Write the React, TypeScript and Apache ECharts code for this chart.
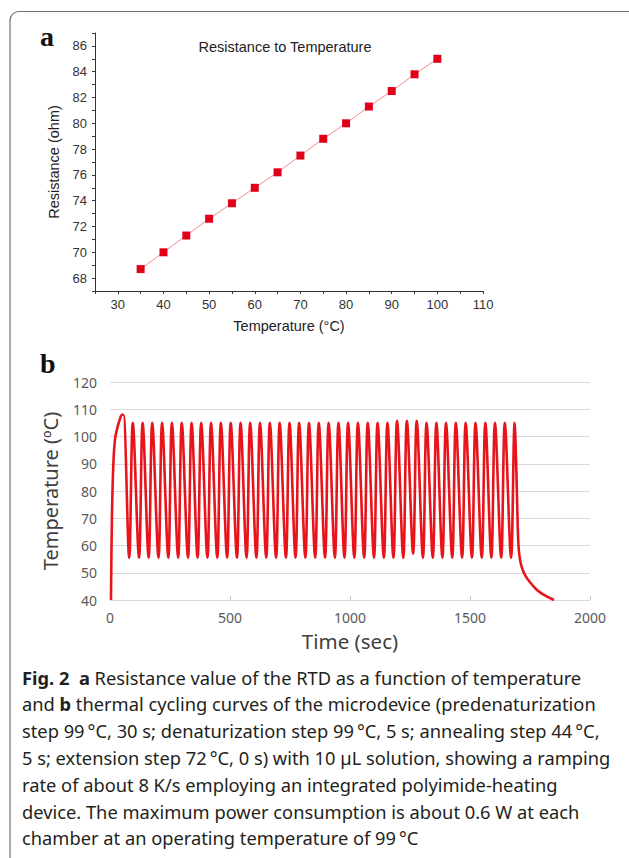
import React, { useEffect, useRef } from "react";
import * as echarts from "echarts";

// ---------- Panel a: RTD resistance vs temperature ----------
const rtdTemps = [35, 40, 45, 50, 55, 60, 65, 70, 75, 80, 85, 90, 95, 100];
const rtdResist = [68.7, 70.0, 71.3, 72.6, 73.8, 75.0, 76.2, 77.5, 78.8, 80.0, 81.3, 82.5, 83.8, 85.0];
const rtdXTicks = [30, 40, 50, 60, 70, 80, 90, 100, 110];
const rtdYTicks = [68, 70, 72, 74, 76, 78, 80, 82, 84, 86];

// ---------- Panel b: thermal cycling ----------
const rampTimes = [4, 8, 14, 21, 30, 40, 50, 56];
const rampTemps = [40, 70, 90, 99, 103, 106, 108, 108];
const troughTimes = [80, 121, 161, 202, 243, 284, 325, 365, 406, 447, 488, 529, 569, 610, 651, 692, 733, 773, 814, 855, 896, 937, 977, 1018, 1059, 1100, 1141, 1181, 1222, 1263, 1304, 1345, 1385, 1426, 1467, 1508, 1549, 1589, 1630, 1671];
const troughTemps = [55.5, 55.5, 55.5, 55.5, 55.5, 55.5, 55.5, 55.5, 55.5, 55.5, 55.5, 55.5, 55.5, 55.5, 55.5, 55.5, 55.5, 55.5, 55.5, 55.5, 55.5, 55.5, 55.5, 55.5, 55.5, 55.5, 55.5, 55.5, 55.5, 57.0, 55.5, 55.5, 55.5, 55.5, 55.5, 55.5, 55.5, 55.5, 55.5, 55.5];
const peakTimes = [95, 136, 176, 217, 258, 299, 340, 380, 421, 462, 503, 544, 584, 625, 666, 707, 748, 788, 829, 870, 911, 952, 992, 1033, 1074, 1115, 1156, 1196, 1237, 1278, 1319, 1360, 1400, 1441, 1482, 1523, 1564, 1604, 1645, 1686];
const peakTemps = [105, 105, 105, 105, 105, 105, 105, 105, 105, 105, 105, 105, 105, 105, 105, 105, 105, 105, 105, 105, 105, 105, 105, 105, 105, 105, 105, 105.8, 105.8, 105.8, 105, 105, 105, 105, 105, 105, 105, 105, 105, 105];
const coolTimes = [1693, 1698, 1702, 1708, 1716, 1730, 1750, 1779, 1810, 1850];
const coolTemps = [88, 70, 60, 55, 52, 49, 46.5, 43.7, 41.8, 40];
const cycXTicks = [0, 500, 1000, 1500, 2000];
const cycYTicks = [40, 50, 60, 70, 80, 90, 100, 110, 120];

const captionLines = [
  "{b|Fig. 2}  {b|a} Resistance value of the RTD as a function of temperature",
  "and {b|b} thermal cycling curves of the microdevice (predenaturization",
  "step 99\u2009°C, 30 s; denaturization step 99\u2009°C, 5 s; annealing step 44\u2009°C,",
  "5 s; extension step 72\u2009°C, 0 s) with 10 µL solution, showing a ramping",
  "rate of about 8 K/s employing an integrated polyimide-heating",
  "device. The maximum power consumption is about 0.6 W at each",
  "chamber at an operating temperature of 99\u2009°C",
];

const SANS_A = "Liberation Sans, Arial, sans-serif";
const SANS_B = "Noto Sans, Open Sans, sans-serif";
const CAP = "Noto Sans, Open Sans, sans-serif";
const SERIF = "Liberation Serif, Times New Roman, serif";

export default function App() {
  const ref = useRef<HTMLDivElement>(null);
  useEffect(() => {
    if (!ref.current) return;
    const chart = echarts.init(ref.current, null, { renderer: "svg" });

    const rtdData = rtdTemps.map((t, i) => [t, rtdResist[i]]);
    const cycData: number[][] = [];
    rampTimes.forEach((t, i) => cycData.push([t, rampTemps[i]]));
    troughTimes.forEach((t, i) => {
      cycData.push([t, troughTemps[i]]);
      cycData.push([peakTimes[i], peakTemps[i]]);
    });
    coolTimes.forEach((t, i) => cycData.push([t, coolTemps[i]]));

    const capFontSize = 18.3;
    const captionGraphics = captionLines.map((line, i) => ({
      type: "text",
      x: 22,
      y: 677 + i * 26.8,
      style: {
        text: line,
        fontFamily: CAP,
        fontSize: capFontSize,
        fill: "#231f20",
        verticalAlign: "middle",
        align: "left",
        rich: {
          b: { fontFamily: CAP, fontSize: capFontSize, fontWeight: "bold", fill: "#231f20" },
        },
      },
    }));

    chart.setOption({
      animation: false,
      backgroundColor: "#ffffff",
      grid: [
        { left: 95, top: 33, width: 388, height: 258 },
        { left: 110, top: 382, width: 480, height: 218 },
      ],
      xAxis: [
        {
          type: "value",
          gridIndex: 0,
          min: 25,
          max: 110,
          interval: 5,
          axisLine: { show: true, lineStyle: { color: "#333", width: 1 } },
          axisTick: { show: true, length: 3, lineStyle: { color: "#333" } },
          axisLabel: {
            formatter: (v: number) => (rtdXTicks.includes(v) ? String(v) : ""),
            color: "#333",
            fontFamily: SANS_A,
            fontSize: 13,
            margin: 7,
          },
          splitLine: { show: false },
          name: "Temperature (°C)",
          nameLocation: "middle",
          nameGap: 27,
          nameTextStyle: { fontFamily: SANS_A, fontSize: 14.5, color: "#222" },
        },
        {
          type: "value",
          gridIndex: 1,
          min: 0,
          max: 2000,
          interval: 500,
          axisLine: { show: true, lineStyle: { color: "#d9d9d9", width: 1 } },
          axisTick: { show: true, inside: true, length: 4, lineStyle: { color: "#c8c8c8" } },
          axisLabel: {
            formatter: (v: number) => (cycXTicks.includes(v) ? String(v) : ""),
            color: "#595959",
            fontFamily: SANS_B,
            fontSize: 14,
            margin: 10,
          },
          splitLine: { show: false },
          name: "Time (sec)",
          nameLocation: "middle",
          nameGap: 30,
          nameTextStyle: { fontFamily: SANS_B, fontSize: 20.5, color: "#404040" },
        },
      ],
      yAxis: [
        {
          type: "value",
          gridIndex: 0,
          min: 67,
          max: 87,
          interval: 1,
          axisLine: { show: true, lineStyle: { color: "#333", width: 1 } },
          axisTick: { show: true, length: 3, lineStyle: { color: "#333" } },
          axisLabel: {
            formatter: (v: number) => (rtdYTicks.includes(v) ? String(v) : ""),
            color: "#333",
            fontFamily: SANS_A,
            fontSize: 13,
            margin: 8,
          },
          splitLine: { show: false },
          name: "Resistance (ohm)",
          nameLocation: "middle",
          nameGap: 24,
          nameRotate: 90,
          nameTextStyle: { fontFamily: SANS_A, fontSize: 14.5, color: "#222" },
        },
        {
          type: "value",
          gridIndex: 1,
          min: 40,
          max: 120,
          interval: 10,
          axisLine: { show: false },
          axisTick: { show: false },
          axisLabel: {
            formatter: (v: number) => (cycYTicks.includes(v) ? String(v) : ""),
            color: "#595959",
            fontFamily: SANS_B,
            fontSize: 14,
            margin: 13,
          },
          splitLine: { show: true, lineStyle: { color: "#d9d9d9", width: 1 } },
          name: "Temperature (ºC)",
          nameLocation: "middle",
          nameGap: 50,
          nameRotate: 90,
          nameTextStyle: { fontFamily: SANS_B, fontSize: 20, color: "#404040" },
        },
      ],
      series: [
        {
          type: "line",
          xAxisIndex: 0,
          yAxisIndex: 0,
          data: rtdData,
          symbol: "rect",
          symbolSize: 8,
          showSymbol: true,
          lineStyle: { color: "#f08c8c", width: 1 },
          itemStyle: { color: "#e00018" },
        },
        {
          type: "line",
          xAxisIndex: 1,
          yAxisIndex: 1,
          data: cycData,
          showSymbol: false,
          smooth: 0.35,
          clip: true,
          lineStyle: { color: "#e8141b", width: 2.6 },
          itemStyle: { color: "#e8141b" },
        },
      ],
      graphic: [
        {
          type: "rect",
          shape: { x: 10, y: 11.5, width: 640, height: 870, r: 9 },
          style: { fill: "none", stroke: "#6e6e6e", lineWidth: 1.2 },
          silent: true,
        },
        {
          type: "text",
          x: 40,
          y: 36,
          style: {
            text: "a",
            fontFamily: SERIF,
            fontWeight: "bold",
            fontSize: 28,
            fill: "#111",
            verticalAlign: "middle",
          },
        },
        {
          type: "text",
          x: 40,
          y: 363,
          style: {
            text: "b",
            fontFamily: SERIF,
            fontWeight: "bold",
            fontSize: 28,
            fill: "#111",
            verticalAlign: "middle",
          },
        },
        {
          type: "text",
          x: 285,
          y: 47,
          style: {
            text: "Resistance to Temperature",
            fontFamily: SANS_A,
            fontSize: 14.5,
            fill: "#222",
            align: "center",
            verticalAlign: "middle",
          },
        },
        ...captionGraphics,
      ],
    });
    return () => chart.dispose();
  }, []);
  return (
    <div
      ref={ref}
      style={{ position: "absolute", left: 0, top: 0, width: 629, height: 858, background: "#fff" }}
    />
  );
}
